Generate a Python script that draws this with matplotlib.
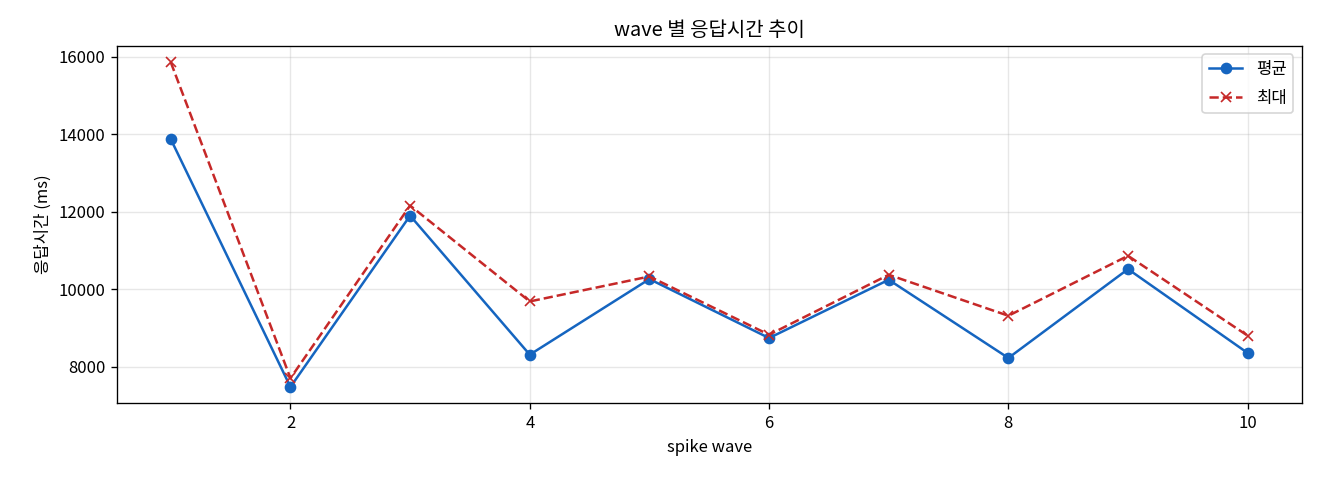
import matplotlib
matplotlib.use('Agg')
import matplotlib.pyplot as plt

plt.rcParams['font.family'] = ['Noto Sans CJK KR', 'DejaVu Sans']
plt.rcParams['axes.unicode_minus'] = False

# wave 번호와 응답시간 (ms)
waves = [1, 2, 3, 4, 5, 6, 7, 8, 9, 10]
avg_ms = [13870, 7485, 11900, 8317, 10265, 8746, 10247, 8232, 10522, 8360]
max_ms = [15851, 7710, 12160, 9689, 10332, 8831, 10376, 9320, 10865, 8806]

fig, ax = plt.subplots(figsize=(11, 4), dpi=120)
ax.plot(waves, avg_ms, marker='o', linestyle='-', color='#1565C0', label='평균')
ax.plot(waves, max_ms, marker='x', linestyle='--', color='#C62828', label='최대')
ax.set_xlabel('spike wave')
ax.set_ylabel('응답시간 (ms)')
ax.set_title('wave 별 응답시간 추이')
ax.grid(True, alpha=0.3)
ax.legend(loc='upper right', labelspacing=0.7)
fig.subplots_adjust(left=0.0886, right=0.986, top=0.904, bottom=0.160)
fig.savefig('out.png')
